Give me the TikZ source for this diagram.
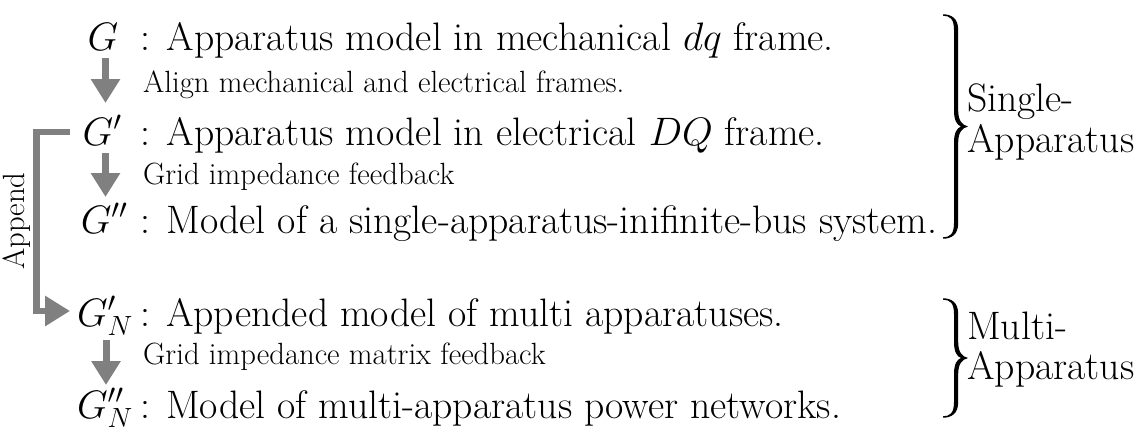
\RequirePackage{fix-cm}
\documentclass[tikz,border=0pt]{standalone}
\usetikzlibrary{arrows.meta}
\definecolor{arrgray}{RGB}{128,128,128}
\newcommand{\mainsz}{\fontsize{39.7}{47}\selectfont}
\newcommand{\smallsz}{\fontsize{30.7}{37}\selectfont}
\tikzset{
  sym/.style={inner sep=0pt, anchor=base, font=\mainsz},
  desc/.style={inner sep=0pt, anchor=base west, font=\mainsz},
  note/.style={inner sep=0pt, anchor=base west, font=\smallsz},
  downarrow/.style={draw=arrgray, line width=7pt, -{Triangle[length=24pt,width=28pt]}, arrgray},
  appendline/.style={draw=arrgray, line width=6.5pt, -{Triangle[length=25pt,width=29pt]}, arrgray},
}
% right curly brace drawn as a filled shape: #1 top y, #2 bottom y
\newcommand{\bracepath}[2]{%
 \pgfmathsetmacro{\yt}{#1}\pgfmathsetmacro{\yb}{#2}\pgfmathsetmacro{\ym}{(#1+#2)/2}%
 \fill (943,\yt-0.7) .. controls (951,\yt-0.7) and (958.2,\yt+3) .. (958.2,\yt+15)
   -- (958.2,\ym-16) .. controls (958.2,\ym-6) and (962,\ym-1.5) .. (968,\ym)
   .. controls (962,\ym+1.5) and (958.2,\ym+6) .. (958.2,\ym+16)
   -- (958.2,\yb-15) .. controls (958.2,\yb-3) and (951,\yb+0.7) .. (943,\yb+0.7)
   -- (943,\yb-0.7) .. controls (950,\yb-0.7) and (954,\yb-4) .. (954,\yb-15)
   -- (954,\ym+16) .. controls (954,\ym+6) and (957,\ym+1.5) .. (961,\ym)
   .. controls (957,\ym-1.5) and (954,\ym-6) .. (954,\ym-16)
   -- (954,\yt+15) .. controls (954,\yt+4) and (950,\yt+0.7) .. (943,\yt+0.7) -- cycle;}
\begin{document}
\begin{tikzpicture}[x=1pt,y=-1pt]
\useasboundingbox (0,0) rectangle (1146,437);
% rows
\node[sym] (g1) at (103,50) {$G$};
\node[desc] (t1) at (140.5,50) {: Apparatus model in mechanical $dq$ frame.};
\node[note] (n1) at (143,92) {Align mechanical and electrical frames.};
\node[sym] (g2) at (102,145) {$G'$};
\node[desc] (t2) at (140.5,145) {: Apparatus model in electrical $DQ$ frame.};
\node[note] (n2) at (143,184) {Grid impedance feedback};
\node[sym] (g3) at (104,233) {$G''$};
\node[desc] (t3) at (140.5,233) {: Model of a single-apparatus-inifinite-bus system.};
\node[sym] (g4) at (105,326) {$G'_N$};
\node[desc] (t4) at (140,326) {: Appended model of multi apparatuses.};
\node[note] (n3) at (143,364) {Grid impedance matrix feedback};
\node[sym] (g5) at (105,418) {$G''_N$};
\node[desc] (t5) at (140,418) {: Model of multi-apparatus power networks.};
% arrows
\coordinate (a1s) at (105.5,58);  \coordinate (a1e) at (105.5,103);
\coordinate (a2s) at (105.5,153); \coordinate (a2e) at (105.5,197);
\coordinate (a3s) at (106,340);   \coordinate (a3e) at (106,385);
\draw[downarrow] (a1s) -- (a1e);
\draw[downarrow] (a2s) -- (a2e);
\draw[downarrow] (a3s) -- (a3e);
% append
\coordinate (ap1) at (70,132);
\coordinate (ap2) at (70,311);
\draw[appendline] (ap1) -- (36.5,132) |- (ap2);
\node[inner sep=0pt, rotate=90, font=\smallsz] (app) at (17,221) {Append};
% braces
\bracepath{15}{238}
\node[desc] (s1) at (967,111) {Single-};
\node[desc] (s2) at (967,152) {Apparatus};
\bracepath{299}{417}
\node[desc] (m1) at (967,339) {Multi-};
\node[desc] (m2) at (967,379) {Apparatus};
\end{tikzpicture}
\end{document}
